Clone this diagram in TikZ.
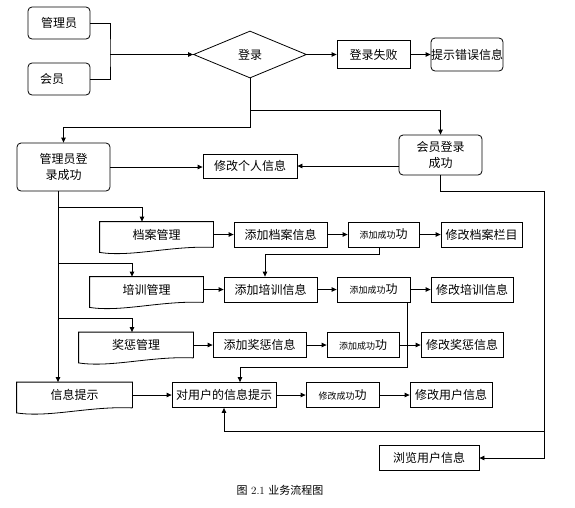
\documentclass[tikz,border=0pt]{standalone}
\usepackage{fontspec}
\newfontfamily\cjk{Noto Sans CJK SC}
\usetikzlibrary{arrows.meta,positioning,shapes.geometric}

\newcommand{\docoutline}[1]{%
  \draw (#1.south east) -- (#1.north east) -- (#1.north west) -- ([yshift=-5pt]#1.south west)
    .. controls ([xshift=-25pt,yshift=-10pt]#1.south) and ([xshift=15pt,yshift=2pt]#1.south) .. (#1.south east);}
\newcommand{\okmsg}[1]{{\fontsize{9}{10}\selectfont #1}功}

\begin{document}
\begin{tikzpicture}[
  x=1pt, y=-1pt,
  line width=0.8pt,
  every node/.style={font=\cjk\fontsize{12}{16}\selectfont, inner sep=0pt, align=center},
  proc/.style={rectangle, draw, minimum height=25pt},
  term/.style={proc, rounded corners=4pt},
  docbox/.style={rectangle, minimum height=25pt},
  rel/.style={-{Triangle[length=5pt,width=4.5pt]}}
]
  \useasboundingbox (0,0) rectangle (575,507);

  \node[term, minimum width=62pt, minimum height=32pt] (admin) at (59,23) {管理员};
  \node[term, minimum width=62pt, minimum height=32pt, text width=38pt, align=left] (member) at (59,79) {会员};
  \node[diamond, draw, aspect=2.4, minimum width=113pt, minimum height=47pt] (login) at (250,54.5) {登录};
  \node[proc, minimum width=73pt, minimum height=28pt] (fail) at (373.5,54.5) {登录失败};
  \node[term, minimum width=72pt, minimum height=33pt] (err) at (467,54.5) {提示错误信息};

  \node[term, minimum width=93pt, minimum height=48pt] (adminok) at (63.5,167) {管理员登\\录成功};
  \node[proc, minimum width=94pt, minimum height=24pt] (self) at (250,166) {修改个人信息};
  \node[term, minimum width=83pt, minimum height=40pt] (memok) at (440.5,155) {会员登录\\成功};

  \node[docbox, minimum width=113pt] (docA) at (156.5,234.5) {档案管理};
  \node[proc, minimum width=93pt] (addA) at (280.5,234.5) {添加档案信息};
  \node[proc, minimum width=71pt] (okA) at (383.5,234.5) {\okmsg{添加成功}};
  \node[proc, minimum width=81pt] (modA) at (481.5,234.5) {修改档案栏目};

  \node[docbox, minimum width=113pt] (docB) at (146.5,289.5) {培训管理};
  \node[proc, minimum width=93pt] (addB) at (270.5,289.5) {添加培训信息};
  \node[proc, minimum width=73pt] (okB) at (373.5,289.5) {\okmsg{添加成功}};
  \node[proc, minimum width=82pt] (modB) at (472,289.5) {修改培训信息};

  \node[docbox, minimum width=114pt] (docC) at (136,345) {奖惩管理};
  \node[proc, minimum width=93pt] (addC) at (259.5,345) {添加奖惩信息};
  \node[proc, minimum width=72pt] (okC) at (363,345) {\okmsg{添加成功}};
  \node[proc, minimum width=82pt] (modC) at (462,345) {修改奖惩信息};

  \node[docbox, minimum width=115pt] (docD) at (74.5,395) {信息提示};
  \node[proc, minimum width=104pt] (notify) at (224,395) {对用户的信息提示};
  \node[proc, minimum width=73pt] (okD) at (342.5,395) {\okmsg{修改成功}};
  \node[proc, minimum width=82pt] (modD) at (451,395) {修改用户信息};

  \node[proc, minimum width=100pt] (browse) at (429,458) {浏览用户信息};
  \node[font=\fontsize{11}{13}\selectfont] (cap) at (280,490) {{\cjk 图} 2.1 {\cjk 业务流程图}};

  \foreach \d in {docA,docB,docC,docD}
    \docoutline{\d};

  \coordinate (j1) at (110,54.5);
  \coordinate (j2) at (250,110);
  \coordinate (j3) at (250,127);
  \coordinate (r1) at (544,191);
  \coordinate (r2) at (544,431);
  \coordinate (trunk) at ([xshift=-5.5pt]adminok.south);
  \coordinate (bA) at (58,207);
  \coordinate (bB) at (58,263);
  \coordinate (bC) at (58,318);
  \coordinate (c1) at (265,254);
  \coordinate (c2) at (240,367);

  \draw (admin.east) -| (j1) |- (member.east);
  \draw[rel] (j1) -- (login.west);
  \foreach \a/\b in {login/fail, fail/err, docA/addA, addA/okA, okA/modA, docB/addB, addB/okB, okB/modB,
                     docC/addC, addC/okC, okC/modC, docD/notify, notify/okD, okD/modD}
    \draw[rel] (\a) -- (\b);

  \draw[rel] (login.south) -- (j3) -| (adminok.north);
  \draw[rel] (j2) -| (memok.north);
  \draw[rel] (adminok.east) -- (adminok.east -| self.west);
  \draw[rel] (self.east -| memok.west) -- (self.east);
  \draw[rel] (memok.south) |- (r1) |- (browse.east);
  \draw[rel] (r2) -| (notify.south);

  \draw[rel] (trunk) -- (trunk |- docD.north);
  \draw[rel] (bA) -| ([xshift=-14.5pt]docA.north);
  \draw[rel] (bB) -| ([xshift=-14.5pt]docB.north);
  \draw[rel] (bC) -| ([xshift=-4pt]docC.north);

  \draw[rel] ([xshift=-4.5pt]okA.south) |- (c1) -- (c1 |- addB.north);
  \draw[rel] ([xshift=33.5pt]okB.south) |- (c2) -- (c2 |- notify.north);
\end{tikzpicture}
\end{document}
